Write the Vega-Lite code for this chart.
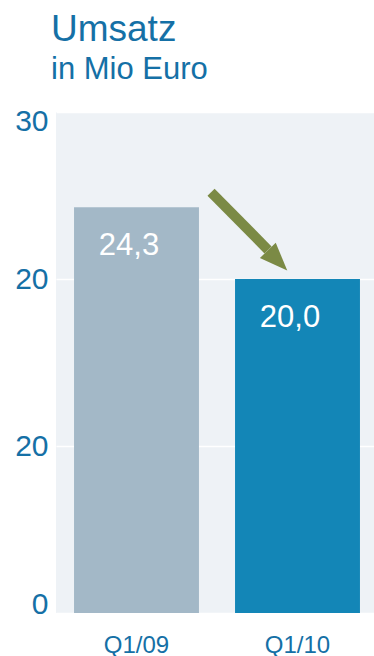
{
  "$schema": "https://vega.github.io/schema/vega-lite/v6.json",
  "width": 322,
  "height": 501,
  "autosize": {"type": "none"},
  "padding": {"left": 56, "top": 112, "right": 0, "bottom": 43},
  "config": {
    "locale": {"number": {"decimal": ",", "thousands": ".", "grouping": [3], "currency": ["", " €"]}},
    "view": {"fill": "#eef2f6", "stroke": null},
    "font": "Liberation Sans"
  },
  "title": {
    "text": "Umsatz",
    "subtitle": "in Mio Euro",
    "anchor": "start",
    "frame": "group",
    "fontSize": 37,
    "subtitleFontSize": 31,
    "color": "#1570a6",
    "subtitleColor": "#1570a6",
    "fontWeight": "normal",
    "font": "Liberation Sans",
    "subtitleFont": "Liberation Sans",
    "dx": -5,
    "offset": 20,
    "subtitlePadding": 6
  },
  "layer": [
    {
      "data": {"values": [
        {"quartal": "Q1/09", "umsatz": 24.3},
        {"quartal": "Q1/10", "umsatz": 20.0}
      ]},
      "layer": [
        {
          "mark": {"type": "bar"},
          "encoding": {
            "x": {
              "field": "quartal", "type": "nominal",
              "scale": {"paddingInner": 0.224, "paddingOuter": 0.112},
              "axis": {"title": null, "labelAngle": 0, "labelFontSize": 24, "labelColor": "#1570a6", "labelPadding": 20, "ticks": false, "tickSize": 0, "domain": false, "labelFont": "Liberation Sans"}
            },
            "y": {
              "field": "umsatz", "type": "quantitative",
              "scale": {"domain": [0, 30], "nice": false},
              "axis": {"title": null, "values": [0, 10, 20, 30], "labelExpr": "datum.value == 10 ? '20' : datum.label", "labelFontSize": 30, "labelColor": "#1570a6", "labelFont": "Liberation Sans", "labelFlush": true, "labelFlushOffset": 6, "labelPadding": 8, "ticks": false, "tickSize": 0, "domain": false, "grid": true, "gridColor": "#ffffff", "gridWidth": 1.5, "gridOpacity": 1}
            },
            "color": {
              "field": "quartal", "type": "nominal",
              "scale": {"domain": ["Q1/09", "Q1/10"], "range": ["#a3b8c7", "#1386b7"]},
              "legend": null
            }
          }
        },
        {
          "mark": {"type": "text", "color": "#ffffff", "fontSize": 31, "baseline": "alphabetic", "align": "center", "dy": 48, "dx": -7.5, "font": "Liberation Sans"},
          "encoding": {
            "x": {"field": "quartal", "type": "nominal"},
            "y": {"field": "umsatz", "type": "quantitative"},
            "text": {"field": "umsatz", "type": "quantitative", "format": ".1f"}
          }
        }
      ]
    },
    {
      "data": {"values": [
        {"xs": 0.963, "ys": 25.2, "xe": 1.317, "ye": 21.74, "xh": 1.376, "yh": 21.11}
      ]},
      "layer": [
        {
          "mark": {"type": "rule", "color": "#7b8a45", "strokeWidth": 10, "strokeCap": "butt"},
          "encoding": {
            "x": {"field": "xs", "type": "quantitative", "scale": {"domain": [0, 2], "nice": false, "zero": false}, "axis": null},
            "x2": {"field": "xe"},
            "y": {"field": "ys", "type": "quantitative", "axis": {"title": null}},
            "y2": {"field": "ye"}
          }
        },
        {
          "mark": {"type": "point", "shape": "M -1 -0.786 L 1 0 L -1 0.786 Z", "filled": true, "opacity": 1, "color": "#7b8a45", "size": 784, "angle": 46},
          "encoding": {
            "x": {"field": "xh", "type": "quantitative", "axis": null},
            "y": {"field": "yh", "type": "quantitative", "axis": {"title": null}}
          }
        }
      ]
    }
  ],
  "resolve": {"scale": {"x": "independent"}}
}
